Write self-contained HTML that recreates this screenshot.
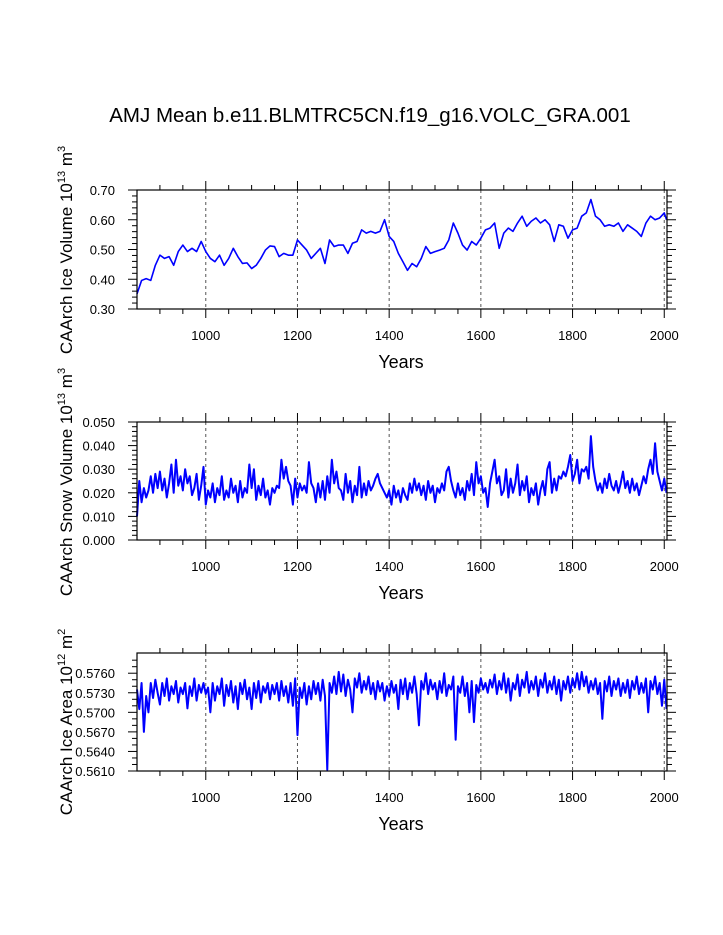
<!DOCTYPE html>
<html><head><meta charset="utf-8"><style>
body{margin:0;background:#fff}
svg{display:block;font-family:"Liberation Sans",Arial,sans-serif}
</style></head><body>
<svg id="chart" width="723" height="935">
<text x="370" y="122" text-anchor="middle" font-size="20.5">AMJ Mean b.e11.BLMTRC5CN.f19_g16.VOLC_GRA.001</text>
</svg>
<script>
const years10 = [];
for (let y = 850; y <= 2000; y += 10) years10.push(y);
years10.push(2005);
const iceVolume = [0.351,0.396,0.402,0.396,0.447,0.481,0.470,0.476,0.447,0.493,0.515,0.493,0.504,0.493,0.527,0.493,0.470,0.459,0.481,0.447,0.470,0.504,0.476,0.453,0.455,0.436,0.447,0.470,0.498,0.512,0.510,0.476,0.487,0.481,0.481,0.532,0.515,0.498,0.470,0.487,0.504,0.453,0.532,0.510,0.515,0.515,0.487,0.521,0.527,0.566,0.555,0.561,0.555,0.561,0.600,0.544,0.527,0.487,0.459,0.430,0.453,0.442,0.470,0.510,0.487,0.493,0.498,0.504,0.532,0.589,0.555,0.515,0.498,0.527,0.515,0.538,0.566,0.572,0.589,0.504,0.555,0.572,0.561,0.589,0.612,0.578,0.595,0.606,0.589,0.600,0.583,0.527,0.583,0.578,0.538,0.566,0.572,0.612,0.623,0.668,0.612,0.600,0.578,0.583,0.578,0.589,0.561,0.583,0.572,0.561,0.544,0.589,0.612,0.600,0.606,0.623,0.600];
const years5 = [];
for (let y = 850; y <= 2005; y += 5) years5.push(y);
const snowVolume = [0.010,0.025,0.016,0.022,0.018,0.021,0.027,0.020,0.028,0.022,0.029,0.021,0.026,0.018,0.024,0.032,0.020,0.034,0.023,0.027,
0.021,0.030,0.024,0.027,0.019,0.022,0.028,0.017,0.023,0.031,0.015,0.021,0.018,0.024,0.016,0.022,0.019,0.027,0.017,0.021,
0.018,0.026,0.020,0.023,0.016,0.025,0.018,0.022,0.020,0.032,0.022,0.030,0.017,0.023,0.019,0.026,0.018,0.021,0.015,0.022,
0.020,0.023,0.022,0.034,0.026,0.031,0.025,0.023,0.015,0.026,0.018,0.024,0.021,0.023,0.020,0.033,0.024,0.022,0.016,0.024,
0.018,0.025,0.017,0.027,0.020,0.034,0.024,0.029,0.022,0.021,0.017,0.028,0.020,0.025,0.016,0.023,0.019,0.031,0.018,0.024,
0.019,0.025,0.021,0.023,0.026,0.028,0.024,0.022,0.020,0.018,0.021,0.015,0.023,0.018,0.021,0.016,0.022,0.019,0.017,0.024,
0.020,0.026,0.021,0.024,0.019,0.023,0.017,0.025,0.020,0.023,0.016,0.022,0.020,0.024,0.021,0.029,0.031,0.025,0.021,0.018,
0.024,0.019,0.022,0.017,0.025,0.021,0.028,0.019,0.033,0.024,0.027,0.020,0.022,0.014,0.024,0.029,0.034,0.024,0.027,0.019,
0.021,0.030,0.018,0.026,0.020,0.024,0.032,0.019,0.025,0.021,0.027,0.016,0.022,0.019,0.024,0.015,0.021,0.025,0.019,0.030,
0.033,0.020,0.026,0.021,0.027,0.026,0.029,0.027,0.031,0.036,0.025,0.028,0.034,0.024,0.030,0.029,0.031,0.026,0.044,0.031,
0.025,0.021,0.024,0.020,0.026,0.022,0.028,0.023,0.021,0.025,0.020,0.024,0.029,0.022,0.025,0.020,0.026,0.021,0.024,0.019,
0.023,0.027,0.024,0.030,0.034,0.028,0.041,0.029,0.025,0.021,0.026,0.020];
const iceArea = [0.5735,0.5705,0.5745,0.5670,0.5725,0.5700,0.5745,0.5722,0.5750,0.5730,0.5712,0.5745,0.5725,0.5752,0.5718,0.5740,0.5728,0.5748,0.5715,0.5738,
0.5728,0.5745,0.5706,0.5740,0.5725,0.5752,0.5718,0.5742,0.5730,0.5745,0.5728,0.5738,0.5700,0.5745,0.5718,0.5740,0.5728,0.5752,0.5710,0.5742,
0.5725,0.5748,0.5715,0.5740,0.5705,0.5745,0.5728,0.5750,0.5720,0.5738,0.5705,0.5745,0.5722,0.5748,0.5715,0.5740,0.5730,0.5745,0.5720,0.5742,
0.5728,0.5745,0.5718,0.5748,0.5725,0.5740,0.5715,0.5745,0.5710,0.5752,0.5665,0.5738,0.5722,0.5745,0.5712,0.5740,0.5720,0.5748,0.5728,0.5745,
0.5718,0.5750,0.5725,0.5612,0.5745,0.5730,0.5755,0.5728,0.5762,0.5732,0.5758,0.5725,0.5750,0.5735,0.5700,0.5752,0.5738,0.5760,0.5730,0.5748,
0.5735,0.5755,0.5728,0.5745,0.5720,0.5748,0.5732,0.5745,0.5718,0.5740,0.5725,0.5748,0.5730,0.5742,0.5705,0.5750,0.5728,0.5752,0.5720,0.5745,
0.5730,0.5755,0.5728,0.5680,0.5748,0.5735,0.5760,0.5728,0.5750,0.5735,0.5745,0.5720,0.5748,0.5730,0.5760,0.5725,0.5742,0.5735,0.5755,0.5658,
0.5740,0.5730,0.5755,0.5725,0.5745,0.5700,0.5748,0.5685,0.5742,0.5730,0.5752,0.5735,0.5745,0.5730,0.5750,0.5738,0.5758,0.5728,0.5748,0.5735,
0.5760,0.5730,0.5752,0.5718,0.5745,0.5735,0.5758,0.5725,0.5750,0.5738,0.5762,0.5730,0.5748,0.5735,0.5755,0.5725,0.5750,0.5738,0.5760,0.5730,
0.5748,0.5735,0.5755,0.5728,0.5750,0.5718,0.5748,0.5735,0.5755,0.5730,0.5752,0.5738,0.5760,0.5735,0.5762,0.5740,0.5755,0.5730,0.5748,0.5735,
0.5752,0.5728,0.5745,0.5690,0.5748,0.5732,0.5755,0.5725,0.5748,0.5735,0.5752,0.5725,0.5745,0.5730,0.5750,0.5722,0.5748,0.5735,0.5755,0.5728,
0.5745,0.5730,0.5752,0.5700,0.5748,0.5735,0.5755,0.5728,0.5745,0.5710,0.5750,0.5705];
const xTicks = [1000,1200,1400,1600,1800,2000];
const yTicks1 = ["0.30","0.40","0.50","0.60","0.70"];
const yTicks2 = ["0.000","0.010","0.020","0.030","0.040","0.050"];
const yTicks3 = ["0.5610","0.5640","0.5670","0.5700","0.5730","0.5760"];

const NS = "http://www.w3.org/2000/svg";
const svg = document.getElementById('chart');
const X0 = 137, X1 = 667, YR0 = 850, YR1 = 2006;
function xs(yr){ return X0 + (yr - YR0) / (YR1 - YR0) * (X1 - X0); }
function mk(tag, attrs, parent){
  const e = document.createElementNS(NS, tag);
  for (const k in attrs) e.setAttribute(k, attrs[k]);
  (parent || svg).appendChild(e);
  return e;
}
function panel(name, top, bot, ymin, ymax, ticks, minorN, xsArr, vals, sw, titleMain, titleSup1, titleUnit, titleSup2, titleCy){
  const g = mk('g', {});
  
  
  const ys = v => bot - (v - ymin) / (ymax - ymin) * (bot - top);
  xTicks.forEach(t => {
    const l = mk('line', {x1: xs(t), x2: xs(t), y1: top, y2: bot, stroke: '#555', 'stroke-width': 1, 'stroke-dasharray': '3,3'}, g);
    
    
  });
  let d = '';
  vals.forEach((v, i) => { d += (i ? 'L' : 'M') + xs(xsArr[i]).toFixed(2) + ',' + ys(v).toFixed(2); });
  const p = mk('path', {d: d, fill: 'none', stroke: '#0000ff', 'stroke-width': sw, 'stroke-linejoin': 'round'}, g);
  
  
  const r = mk('rect', {x: X0, y: top, width: X1 - X0, height: bot - top, fill: 'none', stroke: '#000', 'stroke-width': 1.2}, g);
  
  
  for (let yr = 900; yr <= 2000; yr += 50) {
    const major = yr % 200 === 0;
    const len = major ? 9 : 5;
    const x = xs(yr);
    mk('line', {x1: x, x2: x, y1: top, y2: top - len, stroke: '#000', 'stroke-width': 1}, g);
    mk('line', {x1: x, x2: x, y1: bot, y2: bot + len, stroke: '#000', 'stroke-width': 1}, g);
  }
  xTicks.forEach(t => {
    const tx = mk('text', {x: xs(t), y: bot + 31, 'text-anchor': 'middle', 'font-size': 13}, g);
    tx.textContent = t;
    
    
  });
  const tv = ticks.map(Number);
  const step = tv[1] - tv[0];
  for (let i = 0; i < tv.length; i++) {
    const y = ys(tv[i]);
    [[X0, -9], [X1, 9]].forEach(([x, s]) => mk('line', {x1: x, x2: x + s, y1: y, y2: y, stroke: '#000'}, g));
    for (let k = 1; k < minorN; k++) {
      const v = tv[i] + step * k / minorN;
      if (v > ymax + 1e-9) break;
      const my = ys(v);
      [[X0, -5], [X1, 5]].forEach(([x, s]) => mk('line', {x1: x, x2: x + s, y1: my, y2: my, stroke: '#000'}, g));
    }
    const tx = mk('text', {x: 115, y: y + 5, 'text-anchor': 'end', 'font-size': 13}, g);
    tx.textContent = ticks[i];
    
    
  }
  const xt = mk('text', {x: 401, y: bot + 59, 'text-anchor': 'middle', 'font-size': 18}, g);
  xt.textContent = 'Years';
  
  
  const yt = mk('text', {transform: 'translate(72,' + titleCy + ') rotate(-90)', 'text-anchor': 'middle', 'font-size': 17}, g);
  yt.innerHTML = titleMain + '<tspan font-size="11" dy="-7">' + titleSup1 + '</tspan><tspan dy="7"> ' + titleUnit + '</tspan><tspan font-size="11" dy="-7">' + titleSup2 + '</tspan>';
  
  
}
panel('ice-volume', 190, 309, 0.30, 0.70, yTicks1, 5, years10, iceVolume, 1.6, 'CAArch Ice Volume 10', '13', 'm', '3', 250);
panel('snow-volume', 422, 540, 0.0, 0.050, yTicks2, 5, years5, snowVolume, 2, 'CAArch Snow Volume 10', '13', 'm', '3', 482);
panel('ice-area', 653, 771, 0.5610, 0.5791, yTicks3, 3, years5, iceArea, 2, 'CAArch Ice Area 10', '12', 'm', '2', 722);
</script>
</body></html>
